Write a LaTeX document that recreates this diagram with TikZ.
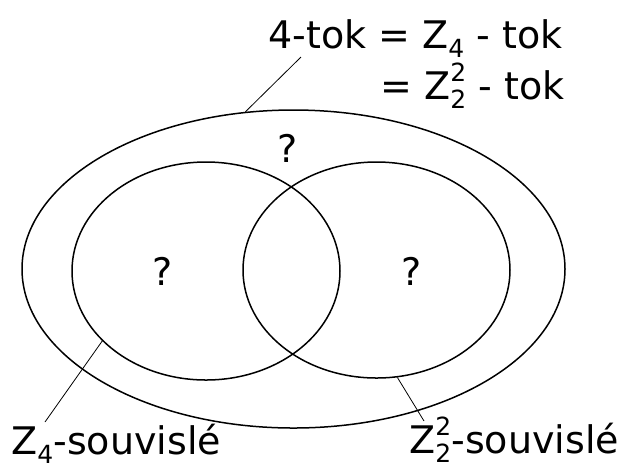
\documentclass[tikz,border=0pt]{standalone}
\usepackage{fontspec}
\setmainfont{DejaVu Sans}
\usetikzlibrary{shapes.geometric}
\newcommand{\lo}[1]{\raisebox{-0.26em}{\fontsize{12.5}{12.5}\selectfont #1}}
\newcommand{\hi}[1]{\raisebox{0.46em}{\fontsize{12.5}{12.5}\selectfont #1}}
\newcommand{\Zfour}{Z\lo{4}}
\newcommand{\Ztwo}{Z\rlap{\hi{2}}\lo{2}}

\begin{document}
\begin{tikzpicture}[x=0.5pt,y=-0.5pt,
  every node/.style={font=\fontsize{19}{23}\selectfont, inner sep=0pt},
  set/.style={draw, ellipse, line width=0.75pt},
  tag/.style={line width=0.4pt}]
\useasboundingbox (0,0) rectangle (621,468);

% the three sets
\node[set, minimum width=271.5pt, minimum height=159pt] (tok) at (293.5,269) {};
\node[set, minimum width=134pt, minimum height=109pt] (zfour) at (206,271) {};
\node[set, minimum width=133.5pt, minimum height=108pt] (ztwo) at (376.5,270) {};

\node (q0) at (288,148) {?};
\node (q1) at (163,271) {?};
\node (q2) at (412,271) {?};

% labels
\node[anchor=base west] (lab0) at (268,48) {4-tok = \Zfour{} - tok};
\node[anchor=base west] (lab1) at (380,99) {= \Ztwo{} - tok};
\node[anchor=base west] (lab2) at (11,454) {\Zfour-souvislé};
\node[anchor=base west] (lab3) at (409,453) {\Ztwo-souvislé};

\coordinate (p0) at (301,57);
\coordinate (p1) at (45,422);
\coordinate (p2) at (424,421);
\draw[tag] (tok.107.5) -- (p0);
\draw[tag] (zfour.214) -- (p1);
\draw[tag] (ztwo.281) -- (p2);
\end{tikzpicture}
\end{document}
